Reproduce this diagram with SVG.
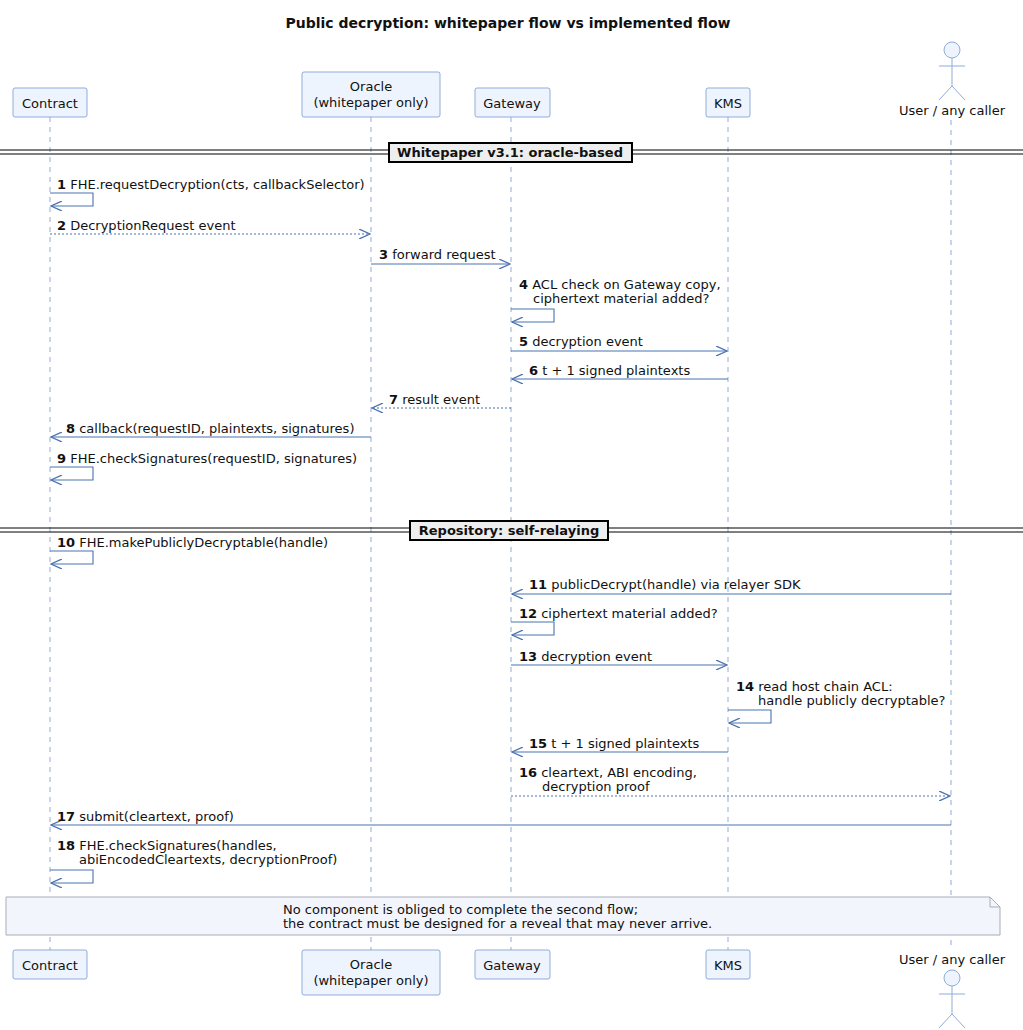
<svg xmlns="http://www.w3.org/2000/svg" width="1023" height="1030" viewBox="0 0 1023 1030">
<defs>
<marker id="ah" viewBox="0 0 12 10" refX="11" refY="5" markerWidth="12" markerHeight="10" markerUnits="userSpaceOnUse" orient="auto"><path d="M0,0 L11,5 L0,10" fill="none" stroke="#4a72b0" stroke-width="1.3"/></marker>
<style>
text{font-family:"DejaVu Sans",sans-serif;font-size:13px;fill:#111}
.b{font-weight:bold}
.t{font-size:14px}
.box{fill:#eef4fd;stroke:#8fadd9;stroke-width:1}
.life{stroke:#8fadd9;stroke-width:1;stroke-dasharray:5,5}
.m{fill:none;stroke:#4a72b0;stroke-width:1.1;marker-end:url(#ah)}
.d{stroke-dasharray:2,2}
.c{text-anchor:middle}
.sep{stroke:#000;stroke-width:1}
.sbox{fill:#eee;stroke:#000;stroke-width:2}
</style>
</defs>
<rect width="1023" height="1030" fill="#fff"/>
<text x="508" y="28" class="b c t">Public decryption: whitepaper flow vs implemented flow</text>
<g id="lifelines">
<line class="life" x1="50" y1="117" x2="50" y2="950"/>
<line class="life" x1="371" y1="117" x2="371" y2="950"/>
<line class="life" x1="511" y1="117" x2="511" y2="950"/>
<line class="life" x1="728" y1="117" x2="728" y2="950"/>
<line class="life" x1="951" y1="120" x2="951" y2="945"/>
</g>
<g id="contract">
<rect class="box" x="13" y="88" width="74" height="29" rx="2"/><text x="50" y="108" class="c">Contract</text>
<rect class="box" x="13" y="950" width="74" height="29" rx="2"/><text x="50" y="970" class="c">Contract</text>
</g>
<g id="oracle">
<rect class="box" x="302" y="72" width="138" height="45" rx="2"/><text x="371" y="91" class="c">Oracle</text><text x="371" y="107" class="c">(whitepaper only)</text>
<rect class="box" x="302" y="950" width="138" height="45" rx="2"/><text x="371" y="969" class="c">Oracle</text><text x="371" y="985" class="c">(whitepaper only)</text>
</g>
<g id="gateway">
<rect class="box" x="475" y="88" width="75" height="29" rx="2"/><text x="512" y="108" class="c">Gateway</text>
<rect class="box" x="475" y="950" width="75" height="29" rx="2"/><text x="512" y="970" class="c">Gateway</text>
</g>
<g id="kms">
<rect class="box" x="706" y="88" width="44" height="29" rx="2"/><text x="728" y="108" class="c">KMS</text>
<rect class="box" x="706" y="950" width="44" height="29" rx="2"/><text x="728" y="970" class="c">KMS</text>
</g>
<g id="user" fill="#eef4fd" stroke="#8fadd9" stroke-width="1">
<circle cx="952" cy="50" r="8"/><path d="M952,58 V86 M939,66 H965 M939,100 L952,86 L965,100" fill="none"/>
<text x="952" y="115" class="c" stroke="none">User / any caller</text>
<text x="952" y="964" class="c" stroke="none">User / any caller</text>
<circle cx="952" cy="978" r="8"/><path d="M952,986 V1014 M939,994 H965 M939,1028 L952,1014 L965,1028" fill="none"/>
</g>
<g id="dividers">
<line class="sep" x1="0" y1="150" x2="1023" y2="150"/><line class="sep" x1="0" y1="154" x2="1023" y2="154"/>
<rect class="sbox" x="389" y="143" width="243" height="19"/><text x="510" y="157" class="b c">Whitepaper v3.1: oracle-based</text>
<line class="sep" x1="0" y1="528" x2="1023" y2="528"/><line class="sep" x1="0" y1="532" x2="1023" y2="532"/>
<rect class="sbox" x="410" y="521" width="198" height="19"/><text x="509" y="535" class="b c">Repository: self-relaying</text>
</g>
<g id="connectors">
<path class="m" d="M50,193 H93 V206 H51"/>
<path class="m d" d="M50,234 H370"/>
<path class="m" d="M371,264 H510"/>
<path class="m" d="M511,309 H554 V322 H512"/>
<path class="m" d="M511,351 H727"/>
<path class="m" d="M728,379 H512"/>
<path class="m d" d="M511,408 H372"/>
<path class="m" d="M371,437 H51"/>
<path class="m" d="M50,467 H93 V480 H51"/>
<path class="m" d="M50,551 H93 V564 H51"/>
<path class="m" d="M951,594 H512"/>
<path class="m" d="M511,622 H554 V635 H512"/>
<path class="m" d="M511,665 H727"/>
<path class="m" d="M728,710 H771 V723 H729"/>
<path class="m" d="M728,752 H512"/>
<path class="m d" d="M511,796 H950"/>
<path class="m" d="M951,825 H51"/>
<path class="m" d="M50,870 H93 V883 H51"/>
</g>
<g id="labels">
<text x="57" y="189"><tspan class="b">1</tspan> FHE.requestDecryption(cts, callbackSelector)</text>
<text x="57" y="230"><tspan class="b">2</tspan> DecryptionRequest event</text>
<text x="379" y="259"><tspan class="b">3</tspan> forward request</text>
<text x="519" y="289"><tspan class="b">4</tspan> ACL check on Gateway copy,</text>
<text x="533" y="303">ciphertext material added?</text>
<text x="519" y="346"><tspan class="b">5</tspan> decryption event</text>
<text x="529" y="375"><tspan class="b">6</tspan> t + 1 signed plaintexts</text>
<text x="389" y="404"><tspan class="b">7</tspan> result event</text>
<text x="66" y="433"><tspan class="b">8</tspan> callback(requestID, plaintexts, signatures)</text>
<text x="57" y="463"><tspan class="b">9</tspan> FHE.checkSignatures(requestID, signatures)</text>
<text x="57" y="547"><tspan class="b">10</tspan> FHE.makePubliclyDecryptable(handle)</text>
<text x="529" y="589"><tspan class="b">11</tspan> publicDecrypt(handle) via relayer SDK</text>
<text x="519" y="618"><tspan class="b">12</tspan> ciphertext material added?</text>
<text x="519" y="661"><tspan class="b">13</tspan> decryption event</text>
<text x="736" y="691"><tspan class="b">14</tspan> read host chain ACL:</text>
<text x="758" y="705">handle publicly decryptable?</text>
<text x="529" y="748"><tspan class="b">15</tspan> t + 1 signed plaintexts</text>
<text x="519" y="777"><tspan class="b">16</tspan> cleartext, ABI encoding,</text>
<text x="542" y="791">decryption proof</text>
<text x="57" y="821"><tspan class="b">17</tspan> submit(cleartext, proof)</text>
<text x="57" y="850"><tspan class="b">18</tspan> FHE.checkSignatures(handles,</text>
<text x="79" y="864">abiEncodedCleartexts, decryptionProof)</text>
</g>
<g id="note">
<path d="M6,897 H990 L1000,907 V935 H6 Z" fill="#f2f6fc" stroke="#aab" stroke-width="1"/>
<path d="M990,897 V907 H1000" fill="none" stroke="#aab" stroke-width="1"/>
<text x="283" y="914">No component is obliged to complete the second flow;</text>
<text x="283" y="928">the contract must be designed for a reveal that may never arrive.</text>
</g>
</svg>
